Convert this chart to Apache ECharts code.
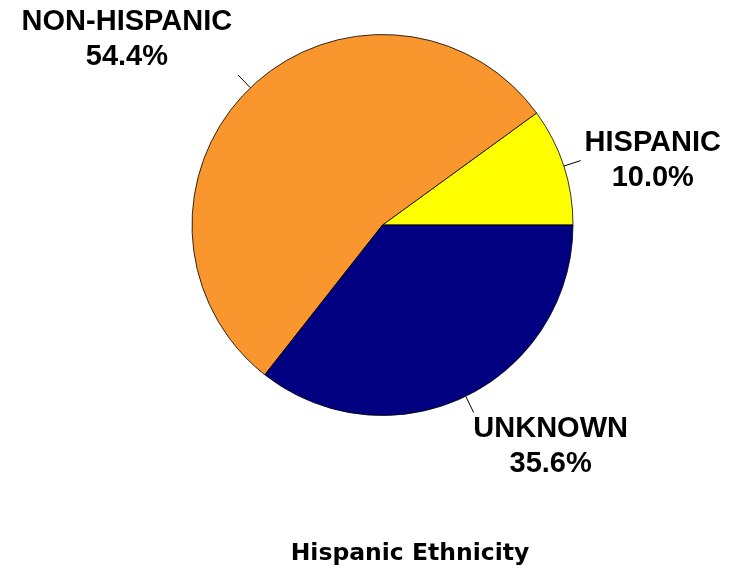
<!DOCTYPE html>
<html>
<head>
<meta charset="utf-8">
<style>
  html, body { margin: 0; padding: 0; background: #ffffff; }
  #chart { width: 745px; height: 571px; }
</style>
<script src="https://cdn.jsdelivr.net/npm/echarts@6/dist/echarts.min.js"></script>
</head>
<body>
<div id="chart"></div>
<script>
// ---- Data ----
var categories = ['HISPANIC', 'NON-HISPANIC', 'UNKNOWN'];
var percentValues = [10.0, 54.4, 35.6];
var chartTitle = 'Hispanic Ethnicity';

// ---- Style ----
var sliceColors = ['#FFFF00', '#F9962E', '#000080'];
// label offset from the end of each label line (style only)
var labelOffsets = [
  { dx: 72, dy: 0 },
  { dx: -111, dy: -35 },
  { dx: 77, dy: 34 }
];

var chart = echarts.init(document.getElementById('chart'), null, { renderer: 'canvas' });

var seriesData = categories.map(function (name, i) {
  return { name: name, value: percentValues[i], itemStyle: { color: sliceColors[i] } };
});

chart.setOption({
  animation: false,
  backgroundColor: '#ffffff',
  title: {
    text: chartTitle,
    left: 405,
    textAlign: 'center',
    top: 537,
    textStyle: {
      fontFamily: 'DejaVu Sans',
      fontWeight: 'bold',
      fontSize: 23.5,
      color: '#000000'
    }
  },
  series: [{
    type: 'pie',
    center: [382.5, 225],
    radius: 190.5,
    startAngle: 0,
    clockwise: false,
    avoidLabelOverlap: false,
    emphasis: { disabled: true },
    itemStyle: { borderColor: '#000000', borderWidth: 0.8 },
    label: {
      show: true,
      position: 'outside',
      formatter: function (p) { return p.name + '\n' + p.value.toFixed(1) + '%'; },
      fontFamily: 'Liberation Sans',
      fontWeight: 'bold',
      fontSize: 29,
      lineHeight: 35,
      color: '#000000'
    },
    labelLine: {
      show: true,
      length: 18,
      length2: 0,
      lineStyle: { color: '#000000', width: 1 }
    },
    labelLayout: function (params) {
      var pts = params.labelLinePoints;
      if (!pts) return {};
      var end = pts[pts.length - 1];
      var off = labelOffsets[params.dataIndex];
      return {
        x: end[0] + off.dx,
        y: end[1] + off.dy,
        align: 'center',
        verticalAlign: 'middle',
        labelLinePoints: pts
      };
    },
    data: seriesData
  }]
});
</script>
</body>
</html>
